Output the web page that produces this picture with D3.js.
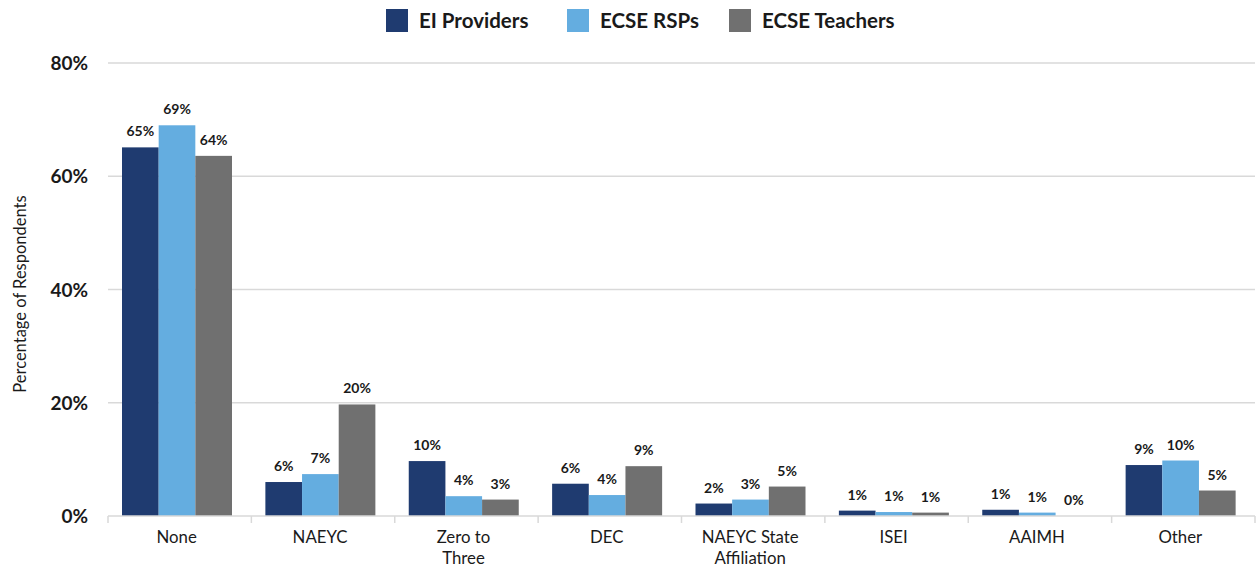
<!DOCTYPE html>
<html>
<head>
<meta charset="utf-8">
<script src="https://cdn.jsdelivr.net/npm/d3@7/dist/d3.min.js"></script>
<style>
  html, body { margin: 0; padding: 0; background: #fff; }
  svg { display: block; font-family: Lato, "Open Sans", sans-serif; }
</style>
</head>
<body>
<svg id="chart" width="1259" height="568"></svg>
<script>
const categories = ["None", "NAEYC", "Zero to Three", "DEC", "NAEYC State Affiliation", "ISEI", "AAIMH", "Other"];
const categoryLines = [["None"], ["NAEYC"], ["Zero to", "Three"], ["DEC"], ["NAEYC State", "Affiliation"], ["ISEI"], ["AAIMH"], ["Other"]];
const seriesNames = ["EI Providers", "ECSE RSPs", "ECSE Teachers"];
const eiProviders = [65.1, 6.0, 9.7, 5.7, 2.2, 0.95, 1.1, 9.0];
const ecseRSPs = [69.0, 7.4, 3.5, 3.7, 2.9, 0.7, 0.6, 9.8];
const ecseTeachers = [63.6, 19.7, 2.9, 8.8, 5.2, 0.6, 0.0, 4.5];
const yTicks = [0, 20, 40, 60, 80];
const colors = ["#1f3b70", "#64ade0", "#707070"];

const seriesValues = [eiProviders, ecseRSPs, ecseTeachers];
const svg = d3.select("#chart");

const x0 = d3.scaleBand().domain(categories).range([108, 1255]).padding(0);
const x1 = d3.scaleBand().domain(seriesNames).range([14, 124]).padding(0);
const y = d3.scaleLinear().domain([0, 80]).range([516, 63]);

// gridlines
svg.append("g").selectAll("line").data(yTicks.filter(t => t > 0)).join("line")
  .attr("x1", 108).attr("x2", 1255)
  .attr("y1", d => y(d)).attr("y2", d => y(d))
  .attr("stroke", "#d9d9d9").attr("stroke-width", 1.3);

// y axis labels
const yAxis = d3.axisLeft(y).tickValues(yTicks).tickFormat(d => d + "%").tickSize(0).tickPadding(0);
const yg = svg.append("g").attr("transform", "translate(88,0)").call(yAxis);
yg.select(".domain").remove();
yg.selectAll("text").attr("font-family", "Lato, sans-serif").attr("font-size", 19).attr("font-weight", "bold").attr("fill", "#1a1a1a").attr("dy", "0.35em");

// bars
const groups = svg.append("g").selectAll("g").data(categories).join("g")
  .attr("transform", d => `translate(${x0(d)},0)`);
groups.selectAll("rect").data((c, i) => seriesNames.map((s, j) => ({s, j, v: seriesValues[j][i]}))).join("rect")
  .attr("x", d => x1(d.s)).attr("width", x1.bandwidth())
  .attr("y", d => y(d.v)).attr("height", d => y(0) - y(d.v))
  .attr("fill", d => colors[d.j]);
groups.selectAll("text").data((c, i) => seriesNames.map((s, j) => ({s, j, v: seriesValues[j][i]}))).join("text")
  .attr("x", d => x1(d.s) + x1.bandwidth() / 2)
  .attr("y", d => y(d.v) - 11)
  .attr("text-anchor", "middle")
  .attr("font-size", 14).attr("font-weight", "bold").attr("fill", "#1a1a1a")
  .text(d => Math.round(d.v) + "%");

// x axis
const xg = svg.append("g");
xg.append("line").attr("x1", 108).attr("x2", 1255).attr("y1", y(0)).attr("y2", y(0)).attr("stroke", "#d9d9d9").attr("stroke-width", 1.5);
const boundaries = categories.map(c => x0(c)).concat([x0(categories[categories.length - 1]) + x0.bandwidth()]);
xg.selectAll("line.tick").data(boundaries).join("line").attr("class", "tick")
  .attr("x1", d => d).attr("x2", d => d).attr("y1", y(0)).attr("y2", y(0) + 7)
  .attr("stroke", "#d9d9d9").attr("stroke-width", 1.5);
const xl = xg.selectAll("text.cat").data(categories).join("text").attr("class", "cat")
  .attr("x", d => x0(d) + x0.bandwidth() / 2 - 3)
  .attr("y", 543)
  .attr("text-anchor", "middle").attr("font-size", 16.8).attr("fill", "#1a1a1a");
xl.each(function(d, i) {
  const t = d3.select(this);
  categoryLines[i].forEach((ln, k) => {
    t.append("tspan").attr("x", x0(d) + x0.bandwidth() / 2 - 3).attr("dy", k === 0 ? 0 : 21).text(ln);
  });
});

// y title
svg.append("text").attr("transform", "translate(26,294) rotate(-90)")
  .attr("text-anchor", "middle").attr("font-size", 16.5).attr("fill", "#1a1a1a")
  .text("Percentage of Respondents");

// legend
const legendX = [386, 567, 729];
const lg = svg.append("g").selectAll("g").data(seriesNames).join("g")
  .attr("transform", (d, i) => `translate(${legendX[i]},9)`);
lg.append("rect").attr("width", 22).attr("height", 23).attr("fill", (d, i) => colors[i]);
lg.append("text").attr("x", 33).attr("y", 11.5).attr("dy", "0.35em")
  .attr("font-size", 20.5).attr("font-weight", "bold").attr("fill", "#1a1a1a").text(d => d);
</script>
</body>
</html>
